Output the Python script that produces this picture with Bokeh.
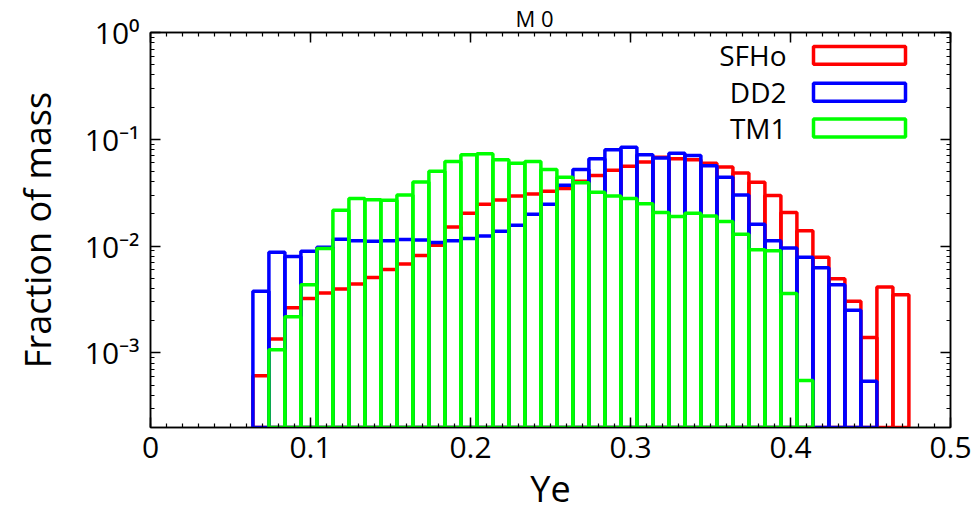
from bokeh.plotting import figure
from bokeh.models import (ColumnDataSource, LinearAxis, LogAxis, FixedTicker,
                          Label, BoxAnnotation, Range1d, Title)
from bokeh.embed import file_html
from bokeh.resources import INLINE
import math

# ---- data (bin centres in Ye, bin width 0.01) ----
ye = [0.069, 0.079, 0.089, 0.099, 0.109, 0.119, 0.129, 0.139, 0.149, 0.159,
      0.169, 0.179, 0.189, 0.199, 0.209, 0.219, 0.229, 0.239, 0.249, 0.259,
      0.269, 0.279, 0.289, 0.299, 0.309, 0.319, 0.329, 0.339, 0.349, 0.359,
      0.369, 0.379, 0.389, 0.399, 0.409, 0.419, 0.429, 0.439, 0.449, 0.459,
      0.469]
bin_width = 0.01

sfho = [6.1e-4, 1.35e-3, 2.64e-3, 3.23e-3, 3.64e-3, 3.96e-3, 4.41e-3, 5.09e-3,
        6.04e-3, 6.8e-3, 8.14e-3, 1.02e-2, 1.51e-2, 2.03e-2, 2.46e-2, 2.70e-2,
        2.94e-2, 3.08e-2, 3.27e-2, 3.46e-2, 4.05e-2, 4.57e-2, 5.12e-2, 5.58e-2,
        6.12e-2, 6.8e-2, 6.58e-2, 6.43e-2, 5.98e-2, 5.5e-2, 4.84e-2, 3.96e-2,
        2.98e-2, 2.06e-2, 1.39e-2, 7.85e-3, 4.95e-3, 3.05e-3, 1.39e-3, 4.14e-3,
        3.51e-3]
dd2 = [3.77e-3, 8.74e-3, 8.0e-3, 8.93e-3, 9.73e-3, 1.16e-2, 1.12e-2, 1.11e-2,
       1.12e-2, 1.15e-2, 1.14e-2, 1.08e-2, 1.12e-2, 1.18e-2, 1.24e-2, 1.38e-2,
       1.57e-2, 1.99e-2, 2.46e-2, 3.72e-2, 5.2e-2, 6.58e-2, 7.97e-2, 8.43e-2,
       7.16e-2, 6.67e-2, 7.41e-2, 7.06e-2, 5.66e-2, 4.41e-2, 3.0e-2, 1.6e-2,
       1.12e-2, 9.6e-3, 7.85e-3, 6.25e-3, 4.35e-3, 2.5e-3, 5.43e-4, None, None]
tm1 = [None, 1.07e-3, 2.18e-3, 4.35e-3, 9.5e-3, 2.16e-2, 2.79e-2, 2.71e-2,
       2.68e-2, 3.0e-2, 3.99e-2, 5.01e-2, 6.21e-2, 7.16e-2, 7.31e-2, 6.43e-2,
       5.98e-2, 6.21e-2, 5.2e-2, 4.41e-2, 3.91e-2, 3.2e-2, 2.94e-2, 2.79e-2,
       2.49e-2, 2.06e-2, 1.89e-2, 2.03e-2, 1.91e-2, 1.7e-2, 1.29e-2, 9.26e-3,
       9.06e-3, 3.59e-3, 5.51e-4, None, None, None, None, None, None]

series_names = ["SFHo", "DD2", "TM1"]
series_colors = ["#ff0000", "#0000ff", "#00ff00"]
series_values = [sfho, dd2, tm1]

x_ticks = [0, 0.1, 0.2, 0.3, 0.4, 0.5]
x_tick_labels = ["0", "0.1", "0.2", "0.3", "0.4", "0.5"]
y_ticks = [1e-3, 1e-2, 1e-1, 1]
y_tick_labels = ["10\u207b\u00b3", "10\u207b\u00b2", "10\u207b\u00b9", "10\u2070"]

Y_MIN, Y_MAX = 2e-4, 1.0
X_MIN, X_MAX = 0.0, 0.5

# ---- layout ----
W, H = 975, 517
ML, MR, MT, MB = 150, 25, 30, 90
FW, FH = W - ML - MR, H - MT - MB
DEC = FH / (math.log10(Y_MAX) - math.log10(Y_MIN))


def fx(px):  # frame pixel (from left) -> data x
    return X_MIN + px / FW * (X_MAX - X_MIN)


def fy(py):  # frame pixel (from top) -> data y (log)
    return 10 ** (math.log10(Y_MAX) - py / DEC)


FONT = "Open Sans"

p = figure(width=W, height=H, x_range=Range1d(X_MIN, X_MAX),
           y_range=Range1d(Y_MIN, Y_MAX), y_axis_type="log",
           output_backend="svg", toolbar_location=None,
           min_border_left=ML, min_border_right=MR,
           min_border_top=MT, min_border_bottom=MB)
p.xgrid.visible = False
p.ygrid.visible = False
p.outline_line_color = "black"
p.outline_line_width = 1.5
p.background_fill_color = "white"
p.border_fill_color = "white"

x_minor = [round(i * 0.01, 3) for i in range(51)]
y_minor = [k * 10 ** e for e in range(-4, 0) for k in range(2, 10)]

xt = FixedTicker(ticks=x_ticks, minor_ticks=x_minor)
yt = FixedTicker(ticks=y_ticks, minor_ticks=y_minor)


def style_axis(ax):
    ax.major_tick_in = 10
    ax.major_tick_out = 0
    ax.minor_tick_in = 4
    ax.minor_tick_out = 0
    ax.axis_line_width = 1.5
    ax.major_tick_line_width = 1.5
    ax.minor_tick_line_width = 1.2
    ax.axis_line_color = "black"
    ax.major_tick_line_color = "black"
    ax.minor_tick_line_color = "black"
    ax.major_label_text_font = FONT
    ax.major_label_text_font_size = "30px"
    ax.major_label_text_color = "black"
    ax.axis_label_text_font = FONT
    ax.axis_label_text_font_size = "36px"
    ax.axis_label_text_font_style = "normal"
    ax.axis_label_text_color = "black"


xa = p.xaxis[0]
xa.ticker = xt
xa.major_label_overrides = dict(zip(x_ticks, x_tick_labels))
xa.axis_label = "Ye"
xa.major_label_standoff = 9
xa.axis_label_standoff = 3
style_axis(xa)

ya = p.yaxis[0]
ya.ticker = yt
ya.major_label_overrides = dict(zip(y_ticks, y_tick_labels))
ya.axis_label = "Fraction of mass"
ya.major_label_standoff = 11
ya.axis_label_standoff = 20
style_axis(ya)

# mirrored tick-only axes (no labels)
top_ax = LinearAxis(ticker=xt, major_label_overrides={t: "" for t in x_ticks},
                    major_label_standoff=0)
style_axis(top_ax)
p.add_layout(top_ax, "above")
right_ax = LogAxis(ticker=yt, major_label_overrides={t: "" for t in y_ticks},
                   major_label_standoff=0)
style_axis(right_ax)
p.add_layout(right_ax, "right")

# ---- title (at the very top as in the reference) ----
p.add_layout(Title(text="M 0", align="left", offset=365, standoff=0,
                   text_font=FONT, text_font_size="22px",
                   text_font_style="normal", text_color="black"), "above")

# ---- histogram outlines ----
for name, color, vals in zip(series_names, series_colors, series_values):
    left, right, top = [], [], []
    for c, v in zip(ye, vals):
        if v is None:
            continue
        left.append(c - bin_width / 2)
        right.append(c + bin_width / 2)
        top.append(v)
    src = ColumnDataSource(dict(left=left, right=right, top=top,
                                bottom=[Y_MIN] * len(top)))
    p.quad(left="left", right="right", top="top", bottom="bottom", source=src,
           fill_color=None, line_color=color, line_width=3.5)

# ---- legend (text left, box right, gnuplot style) ----
leg_text_x = 636
leg_box_l, leg_box_r = 663, 755
leg_rows = [(14, 32), (51, 69), (87, 105)]
for name, color, (t, b) in zip(series_names, series_colors, leg_rows):
    p.add_layout(Label(x=fx(leg_text_x), y=fy((t + b) / 2), text=name,
                       text_align="right", text_baseline="middle",
                       text_font=FONT, text_font_size="28px",
                       text_color="black"))
    p.add_layout(BoxAnnotation(left=fx(leg_box_l), right=fx(leg_box_r),
                               top=fy(t), bottom=fy(b), fill_alpha=0,
                               line_color=color, line_width=3.5,
                               line_alpha=1))

open("out.html", "w").write(file_html(p, INLINE))
